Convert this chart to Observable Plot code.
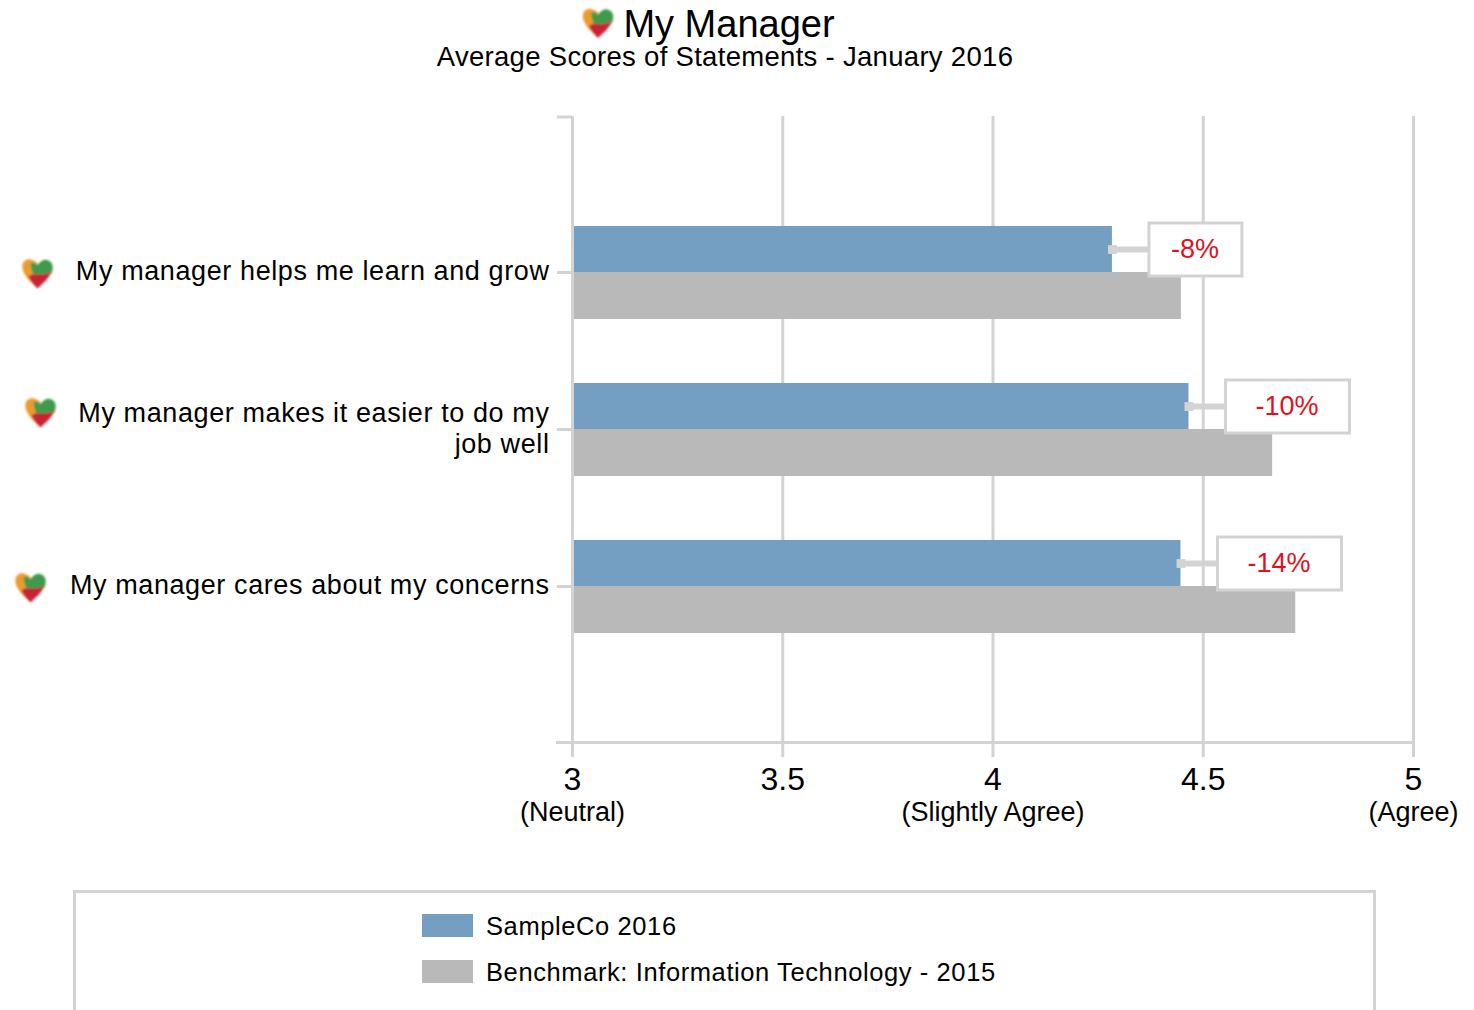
<!DOCTYPE html>
<html>
<head>
<meta charset="utf-8">
<script src="https://cdn.jsdelivr.net/npm/d3@7"></script>
<script src="https://cdn.jsdelivr.net/npm/@observablehq/plot@0.6"></script>
<style>
  html, body { margin: 0; padding: 0; background: #fff; width: 1474px; height: 1010px; overflow: hidden; font-family: "Liberation Sans", Arial, sans-serif; color: #000; }
  #head { position: relative; height: 100px; }
  #title { position: absolute; left: 0; width: 1458px; top: 1px; text-align: center; font-size: 38px; line-height: 46px; }
  #sub { position: absolute; left: 0; width: 1450px; top: 40px; text-align: center; font-size: 27.5px; line-height: 34px; letter-spacing: .3px; }
  #heart { position: absolute; left: 580px; top: 5px; width: 36px; height: 34px; }
  #chart svg { display: block; overflow: visible; }
  #chart .rowLabel text { letter-spacing: .6px; }
  #legend { position: absolute; left: 73px; top: 890px; width: 1297px; height: 140px; border: 3px solid #d3d3d3; box-sizing: content-box; }
  .item { position: absolute; left: 346px; font-size: 25.5px; line-height: 24px; letter-spacing: .6px; white-space: nowrap; }
  .item i { position: absolute; left: 0; top: 0; width: 51px; height: 23px; }
  .item b { font-weight: normal; margin-left: 64px; }
</style>
</head>
<body>
<div id="head">
  <img id="heart" alt="">
  <div id="title">My Manager</div>
  <div id="sub">Average Scores of Statements - January 2016</div>
</div>
<div id="chart"></div>
<div id="legend">
  <div class="item" style="top:21px"><i style="background:#749ec2"></i><b>SampleCo 2016</b></div>
  <div class="item" style="top:67px"><i style="background:#b9b9b9"></i><b>Benchmark: Information Technology - 2015</b></div>
</div>
<script>
const statements = [
  "My manager helps me learn and grow",
  "My manager makes it easier to do my\njob well",
  "My manager cares about my concerns"
];
const sample2016 = [4.284, 4.466, 4.447];
const benchmark2015 = [4.448, 4.665, 4.72];
const changes = ["-8%", "-10%", "-14%"];
const tickValues = [3, 3.5, 4, 4.5, 5];
const scaleAnchors = [3, 4, 5];
const scaleAnchorNames = ["(Neutral)", "(Slightly Agree)", "(Agree)"];

const heartSvg = `<svg xmlns="http://www.w3.org/2000/svg" viewBox="0 0 36 34"><defs><filter id="b" x="-20%" y="-20%" width="140%" height="140%"><feGaussianBlur stdDeviation="1.1"/></filter></defs><g filter="url(#b)"><path d="M18 32C12 28 4 20 3 13C2 7 6 3 11 4C16 5 19 8 20 13L22 26Z" fill="#ee9b2e"/><path d="M11 8C14 6 16 7 18 10C20 6 25 3 29 5C34 7 34 13 32 18L16 23C13 18 11 12 11 8Z" fill="#3f9a4c"/><path d="M9 21C14 16 22 22 32 16C29 24 23 28 18 33C15 30 11 26 9 21Z" fill="#c92336"/></g></svg>`;
const heartUri = "data:image/svg+xml;utf8," + encodeURIComponent(heartSvg);
document.getElementById("heart").src = heartUri;

const rows = statements.map((statement, i) => ({
  statement,
  sample: sample2016[i],
  bench: benchmark2015[i],
  change: changes[i]
}));

const grey = "#d3d3d3";
const pxUnit = 2 / 841;              // data units per pixel on x
const boxGap = 37 * pxUnit;
const boxWidth = d => (d.change.length > 3 ? 124 : 93) * pxUnit;

const plot = Plot.plot({
  width: 1474,
  height: 740,
  marginLeft: 557,
  marginRight: 61,
  marginTop: 16,
  marginBottom: 98,
  style: { fontFamily: "'Liberation Sans', Arial, sans-serif", background: "none", color: "#000" },
  x: { domain: [3 - 15 * pxUnit, 5], label: null },
  y: { domain: statements, paddingInner: 0.403, paddingOuter: 0.689, label: null, axis: null },
  marks: [
    Plot.ruleX(tickValues, { stroke: grey, strokeWidth: 3 }),
    Plot.frame({ anchor: "bottom", stroke: grey, strokeWidth: 3 }),
    Plot.ruleY(statements, { y: d => d, x1: 3 - 15 * pxUnit, x2: 3, stroke: grey, strokeWidth: 3 }),
    Plot.ruleY(statements.slice(0, 1), { y: d => d, x1: 3 - 15 * pxUnit, x2: 3, dy: -155.5, stroke: grey, strokeWidth: 3 }),
    Plot.axisX({ ticks: tickValues, tickFormat: d => String(d), tickSize: 15, tickPadding: 10, stroke: grey, strokeWidth: 3, fill: "#000", fontSize: 32, label: null }),
    Plot.text(scaleAnchors, { x: d => d, text: (d, i) => scaleAnchorNames[i], frameAnchor: "bottom", dy: 78, fontSize: 27, fill: "#000" }),
    Plot.barX(rows, { x1: 3 + 2 * pxUnit, x2: "bench", y: "statement", insetTop: 47, fill: "#b9b9b9" }),
    Plot.barX(rows, { x1: 3 + 2 * pxUnit, x2: "sample", y: "statement", insetBottom: 47, insetTop: 1, fill: "#749ec2" }),
    Plot.ruleY(rows, { y: "statement", x1: "sample", x2: d => d.sample + boxGap, dy: -23, stroke: grey, strokeWidth: 6 }),
    Plot.dot(rows, { x: "sample", y: "statement", dy: -23, symbol: "square", r: 5, fill: grey }),
    Plot.barX(rows, { x1: d => d.sample + boxGap, x2: d => d.sample + boxGap + boxWidth(d), y: "statement", insetTop: -2, insetBottom: 43, fill: "#fff", stroke: grey, strokeWidth: 3 }),
    Plot.text(rows, { x: d => d.sample + boxGap + boxWidth(d) / 2, y: "statement", text: "change", dy: -23, dx: -1, fontSize: 27, fill: "#e2101d" }),
    Plot.text(rows, { x: 3, y: "statement", text: "statement", dx: -23, dy: -2, textAnchor: "end", lineHeight: 1.15, fontSize: 27, fill: "#000", className: "rowLabel" }),
    Plot.image([rows[0]], { x: 3, y: "statement", src: () => heartUri, width: 36, height: 34, dx: -535, dy: 0 }),
    Plot.image([rows[1]], { x: 3, y: "statement", src: () => heartUri, width: 36, height: 34, dx: -532, dy: -18 }),
    Plot.image([rows[2]], { x: 3, y: "statement", src: () => heartUri, width: 36, height: 34, dx: -542, dy: 0 })
  ]
});
document.getElementById("chart").appendChild(plot);
</script>
</body>
</html>
